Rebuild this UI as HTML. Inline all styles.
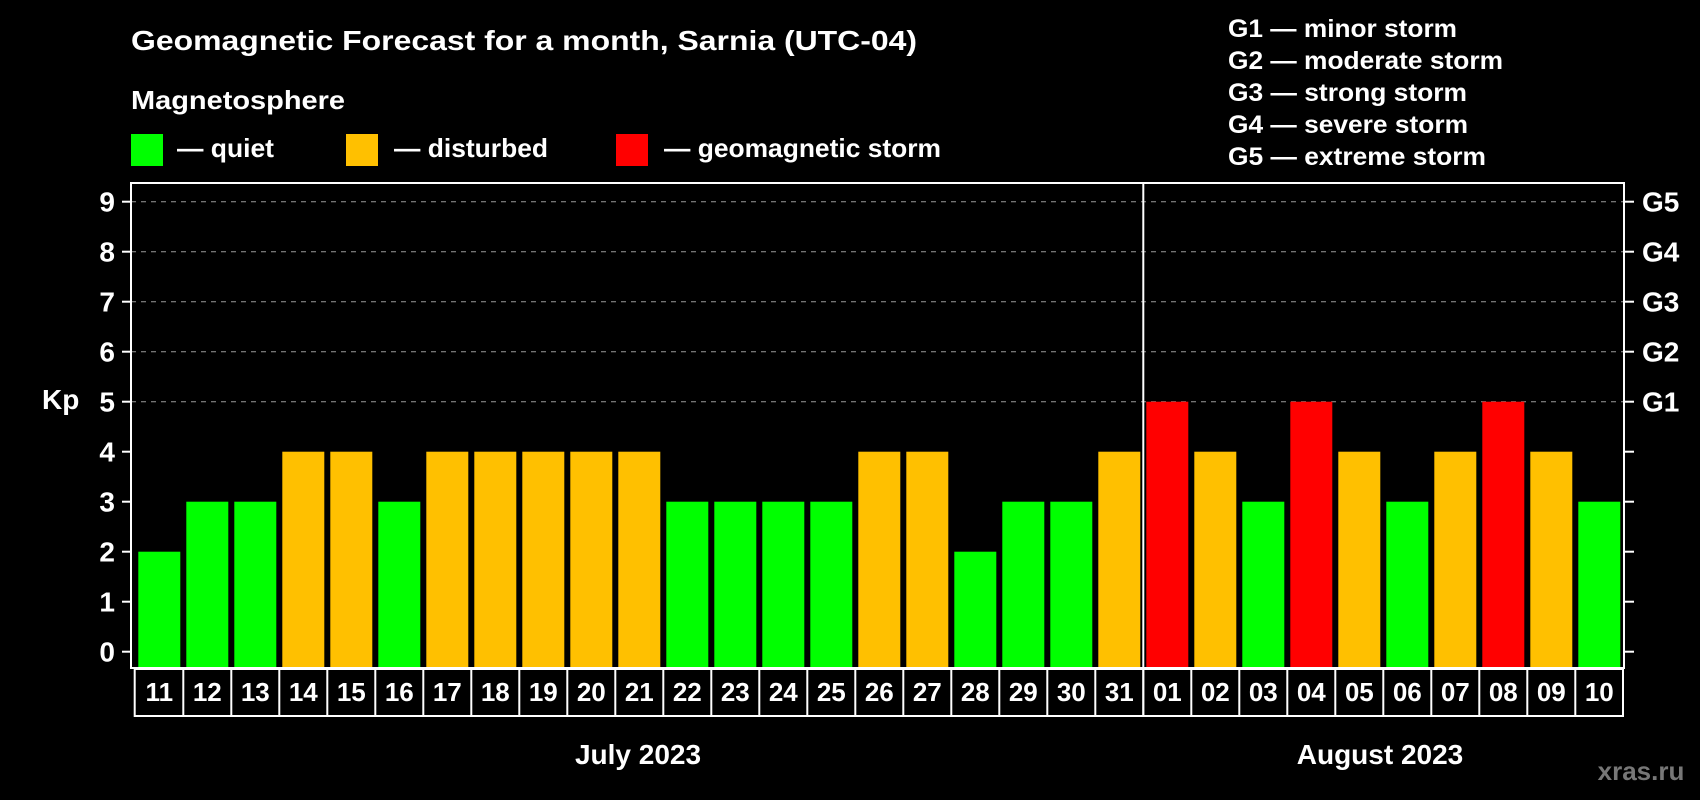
<!DOCTYPE html>
<html><head><meta charset="utf-8"><style>
html,body{margin:0;padding:0;background:#000;}
svg{display:block;font-family:"Liberation Sans",Arial,sans-serif;font-weight:bold;}
</style></head><body>
<svg id="chart" width="1700" height="800" viewBox="0 0 1700 800" xmlns="http://www.w3.org/2000/svg">
<rect width="1700" height="800" fill="#000"/>
<text x="131" y="50" fill="#fff" font-size="28" textLength="786" lengthAdjust="spacingAndGlyphs">Geomagnetic Forecast for a month, Sarnia (UTC-04)</text>
<text x="131" y="109" fill="#fff" font-size="26" textLength="214" lengthAdjust="spacingAndGlyphs">Magnetosphere</text>
<g><rect x="131" y="134" width="32" height="32" fill="#00ff00"/><text x="177" y="157" fill="#fff" font-size="26" textLength="97" lengthAdjust="spacingAndGlyphs">— quiet</text></g>
<g><rect x="346" y="134" width="32" height="32" fill="#ffc000"/><text x="394" y="157" fill="#fff" font-size="26" textLength="154" lengthAdjust="spacingAndGlyphs">— disturbed</text></g>
<g><rect x="616" y="134" width="32" height="32" fill="#ff0000"/><text x="664" y="157" fill="#fff" font-size="26" textLength="277" lengthAdjust="spacingAndGlyphs">— geomagnetic storm</text></g>
<g fill="#fff" font-size="25">
<text x="1228" y="37" textLength="229" lengthAdjust="spacingAndGlyphs">G1 — minor storm</text>
<text x="1228" y="69" textLength="275" lengthAdjust="spacingAndGlyphs">G2 — moderate storm</text>
<text x="1228" y="101" textLength="239" lengthAdjust="spacingAndGlyphs">G3 — strong storm</text>
<text x="1228" y="133" textLength="240" lengthAdjust="spacingAndGlyphs">G4 — severe storm</text>
<text x="1228" y="165" textLength="258" lengthAdjust="spacingAndGlyphs">G5 — extreme storm</text>
</g>
<text x="42" y="409" fill="#fff" font-size="28">Kp</text>
<g id="grid"></g><g id="bars"></g><g id="axes"></g>
<text x="638" y="764" fill="#fff" font-size="28" text-anchor="middle">July 2023</text>
<text x="1380" y="764" fill="#fff" font-size="28" text-anchor="middle">August 2023</text>
<text x="1641" y="780" fill="#777" font-size="26" text-anchor="middle">xras.ru</text>
</svg>
<script>
const days = ["11","12","13","14","15","16","17","18","19","20","21","22","23","24","25","26","27","28","29","30","31","01","02","03","04","05","06","07","08","09","10"];
const kp = [2,3,3,4,4,3,4,4,4,4,4,3,3,3,3,4,4,2,3,3,4,5,4,3,5,4,3,4,5,4,3];
const yTicks = [0,1,2,3,4,5,6,7,8,9];
const gLabels = ["G1","G2","G3","G4","G5"];
const julyCount = 21;
const NS="http://www.w3.org/2000/svg";
const L=131,R=1624,TOP=183,BOT=668,PITCH=48,BAR0=138.3,BW=42;
function y(v){return 651.7 - v*50;}
function bx(i){return BAR0 + i*PITCH;}
const SEP = bx(julyCount)-3;
function mk(tag,attrs,parent){const e=document.createElementNS(NS,tag);for(const k in attrs)e.setAttribute(k,attrs[k]);parent.appendChild(e);return e;}
function color(v){return v>=5?"#ff0000":v>=4?"#ffc000":"#00ff00";}
const grid=document.getElementById('grid'),bars=document.getElementById('bars'),axes=document.getElementById('axes');
[5,6,7,8,9].forEach(v=>{
  const l=mk('line',{x1:L,x2:R,y1:y(v),y2:y(v),stroke:'#9a9a9a','stroke-width':1,'stroke-dasharray':'5,5'},grid);
  
  
});
kp.forEach((v,i)=>{
  const r=mk('rect',{x:bx(i),y:y(v),width:BW,height:BOT-y(v),fill:color(v)},bars);
  
  
});
const frame=mk('rect',{x:L,y:TOP,width:R-L,height:BOT-TOP,fill:'none',stroke:'#fff','stroke-width':2},axes);


const sep=mk('line',{x1:SEP,x2:SEP,y1:TOP,y2:716,stroke:'#fff','stroke-width':2},axes);


yTicks.forEach(v=>{
  mk('line',{x1:122,x2:L,y1:y(v),y2:y(v),stroke:'#fff','stroke-width':2},axes);
  mk('line',{x1:R,x2:1634,y1:y(v),y2:y(v),stroke:'#fff','stroke-width':2},axes);
  const t=mk('text',{x:115,y:y(v)+10,fill:'#fff','font-size':28,'text-anchor':'end'},axes);
  t.textContent=v;
  
  
});
gLabels.forEach((g,i)=>{
  const t=mk('text',{x:1642,y:y(i+5)+10,fill:'#fff','font-size':28},axes);
  t.textContent=g;
  
  
});
mk('rect',{x:134.7,y:669,width:1623-134.7,height:47,fill:'none',stroke:'#fff','stroke-width':2},axes);
days.forEach((d,i)=>{
  if(i>0) mk('line',{x1:bx(i)-3,x2:bx(i)-3,y1:669,y2:716,stroke:'#fff','stroke-width':2},axes);
  const t=mk('text',{x:bx(i)+BW/2,y:701,fill:'#fff','font-size':26,'text-anchor':'middle'},axes);
  t.textContent=d;
  
  
});
</script>
</body></html>
